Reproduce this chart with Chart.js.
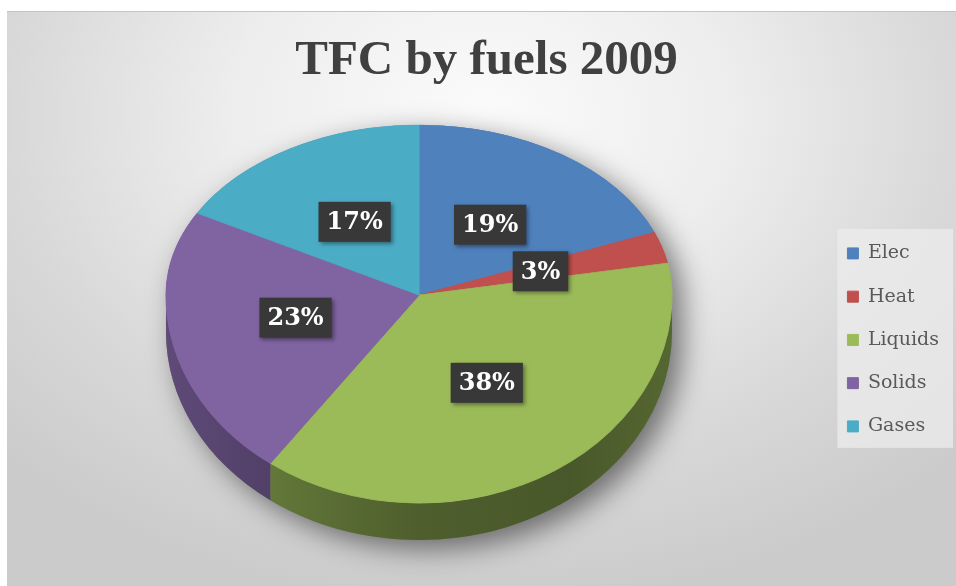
<!DOCTYPE html>
<html>
<head>
<meta charset="utf-8">
<title>TFC by fuels 2009</title>
<script src="https://cdn.jsdelivr.net/npm/chart.js@4.4.1/dist/chart.umd.min.js"></script>
<style>
  html, body { margin: 0; padding: 0; background: #fff; }
  body { width: 956px; height: 586px; position: relative; overflow: hidden; }
  #panel {
    position: absolute; left: 7px; top: 11px; width: 949px; height: 575px;
    border-top: 1px solid #c4c4c4;
    background: radial-gradient(ellipse 70% 85% at 50% 18%, #fbfbfb 0%, #ededed 38%, #d8d8d8 72%, #cbcbcb 100%);
  }
  #chart { position: absolute; left: 0; top: 0; }
</style>
</head>
<body>
<div id="panel"></div>
<canvas id="chart" width="956" height="586"></canvas>
<script>
// Datos del gráfico
const categorias = ['Elec', 'Heat', 'Liquids', 'Solids', 'Gases'];
const porcentajes = [19, 3, 38, 23, 17];
const colores = ['#4f81bd', '#c0504d', '#9bbb59', '#8064a2', '#4bacc6'];

// Vista 3D: centro del disco, radios de la cara superior (mitad de atrás / de adelante) y grosor
const vista = { cx: 419, cy: 295, rx: 253, ryArriba: 170, ryAbajo: 208, grosor: 37 };

function oscurecer(hex, f) {
    const n = parseInt(hex.slice(1), 16);
    const r = Math.round(((n >> 16) & 255) * f);
    const g = Math.round(((n >> 8) & 255) * f);
    const b = Math.round((n & 255) * f);
    return `rgb(${r},${g},${b})`;
}

// Pasa del pastel plano de Chart.js a la cara inclinada
function aplicarVista(ctx, arco, ry) {
    ctx.translate(vista.cx, vista.cy);
    ctx.scale(vista.rx / arco.outerRadius, ry / arco.outerRadius);
    ctx.translate(-arco.x, -arco.y);
}

function dibujarCostado(ctx, arcos) {
    const { cx, cy, rx, ryArriba, ryAbajo, grosor } = vista;

    // Sombra bajo el disco
    ctx.save();
    ctx.shadowColor = 'rgba(0,0,0,0.5)';
    ctx.shadowBlur = 28;
    ctx.shadowOffsetX = 10;
    ctx.shadowOffsetY = 9;
    ctx.fillStyle = '#777';
    ctx.beginPath();
    ctx.ellipse(cx, cy, rx, ryArriba, 0, Math.PI, 2 * Math.PI);
    ctx.lineTo(cx + rx, cy + grosor);
    ctx.ellipse(cx, cy + grosor, rx, ryAbajo, 0, 0, Math.PI);
    ctx.closePath();
    ctx.fill();
    ctx.restore();

    // Borde visible (mitad de adelante)
    arcos.forEach((arco, i) => {
        const a1 = Math.max(arco.startAngle, 0);
        const a2 = Math.min(arco.endAngle, Math.PI);
        if (a2 <= a1) return;
        const grad = ctx.createLinearGradient(cx - rx, 0, cx + rx, 0);
        grad.addColorStop(0, oscurecer(colores[i], 0.74));
        grad.addColorStop(0.2, oscurecer(colores[i], 0.64));
        grad.addColorStop(0.5, oscurecer(colores[i], 0.5));
        grad.addColorStop(0.8, oscurecer(colores[i], 0.47));
        grad.addColorStop(1, oscurecer(colores[i], 0.55));
        ctx.fillStyle = grad;
        ctx.beginPath();
        ctx.ellipse(cx, cy, rx, ryAbajo, 0, a1, a2);
        ctx.ellipse(cx, cy + grosor, rx, ryAbajo, 0, a2, a1, true);
        ctx.closePath();
        ctx.fill();
    });
}

function dibujarEtiquetas(ctx, arcos) {
    const total = porcentajes.reduce((a, b) => a + b, 0);
    ctx.save();
    ctx.font = 'bold 24px "DejaVu Serif", serif';
    ctx.textAlign = 'center';
    ctx.textBaseline = 'middle';
    arcos.forEach((arco, i) => {
        const medio = (arco.startAngle + arco.endAngle) / 2;
        const ux = Math.cos(medio), uy = Math.sin(medio);
        const ry = uy < 0 ? vista.ryArriba : vista.ryAbajo;
        const x = vista.cx + ux * vista.rx * 0.5;
        const y = vista.cy + uy * ry * 0.5;
        const texto = Math.round(porcentajes[i] / total * 100) + '%';
        const w = ctx.measureText(texto).width + 16, h = 40;
        ctx.shadowColor = 'rgba(0,0,0,0.4)';
        ctx.shadowBlur = 4;
        ctx.shadowOffsetX = 2;
        ctx.shadowOffsetY = 2;
        ctx.fillStyle = '#383838';
        ctx.fillRect(x - w / 2, y - h / 2, w, h);
        ctx.shadowColor = 'transparent';
        ctx.fillStyle = '#ffffff';
        ctx.fillText(texto, x, y + 1);
    });
    ctx.restore();
}

const pastel3D = {
    id: 'pastel3D',
    beforeDraw(chart) {
        // Fondo claro de la leyenda
        const cajas = chart.legend && chart.legend.legendHitBoxes;
        if (!cajas || !cajas.length) return;
        const izq = Math.min(...cajas.map(c => c.left)) - 10;
        const arr = Math.min(...cajas.map(c => c.top)) - 15;
        const abj = Math.max(...cajas.map(c => c.top + c.height)) + 12;
        const ctx = chart.ctx;
        ctx.save();
        ctx.fillStyle = 'rgba(236,236,236,0.75)';
        ctx.fillRect(izq, arr, chart.width - 3 - izq, abj - arr);
        ctx.restore();
    },
    beforeDatasetDraw(chart, args) {
        const ctx = chart.ctx;
        const arcos = args.meta.data;
        if (!arcos.length) return;
        dibujarCostado(ctx, arcos);

        // Mitad de atrás
        ctx.save();
        ctx.beginPath();
        ctx.rect(0, 0, chart.width, vista.cy);
        ctx.clip();
        aplicarVista(ctx, arcos[0], vista.ryArriba);
        arcos.forEach(a => a.draw(ctx));
        ctx.restore();

        // Mitad de adelante
        ctx.save();
        ctx.beginPath();
        ctx.rect(0, vista.cy, chart.width, chart.height - vista.cy);
        ctx.clip();
        aplicarVista(ctx, arcos[0], vista.ryAbajo);
        arcos.forEach(a => a.draw(ctx));
        ctx.restore();

        dibujarEtiquetas(ctx, arcos);
        return false;
    }
};

new Chart(document.getElementById('chart'), {
    type: 'pie',
    data: {
        labels: categorias,
        datasets: [{
            data: porcentajes,
            backgroundColor: colores,
            borderColor: colores,
            borderWidth: 1
        }]
    },
    options: {
        responsive: false,
        animation: false,
        events: [],
        layout: { padding: { top: 0, right: 7, bottom: 0, left: 24 } },
        plugins: {
            title: {
                display: true,
                text: 'TFC by fuels 2009',
                color: '#404040',
                font: { family: '"Liberation Serif", serif', size: 49, weight: 'bold' },
                padding: { top: 32, bottom: 3 }
            },
            legend: {
                position: 'right',
                fullSize: false,
                labels: {
                    boxWidth: 11,
                    boxHeight: 11,
                    padding: 24.25,
                    color: '#595959',
                    font: { family: '"DejaVu Serif", serif', size: 19 }
                }
            },
            tooltip: { enabled: false }
        }
    },
    plugins: [pastel3D]
});
</script>
</body>
</html>
